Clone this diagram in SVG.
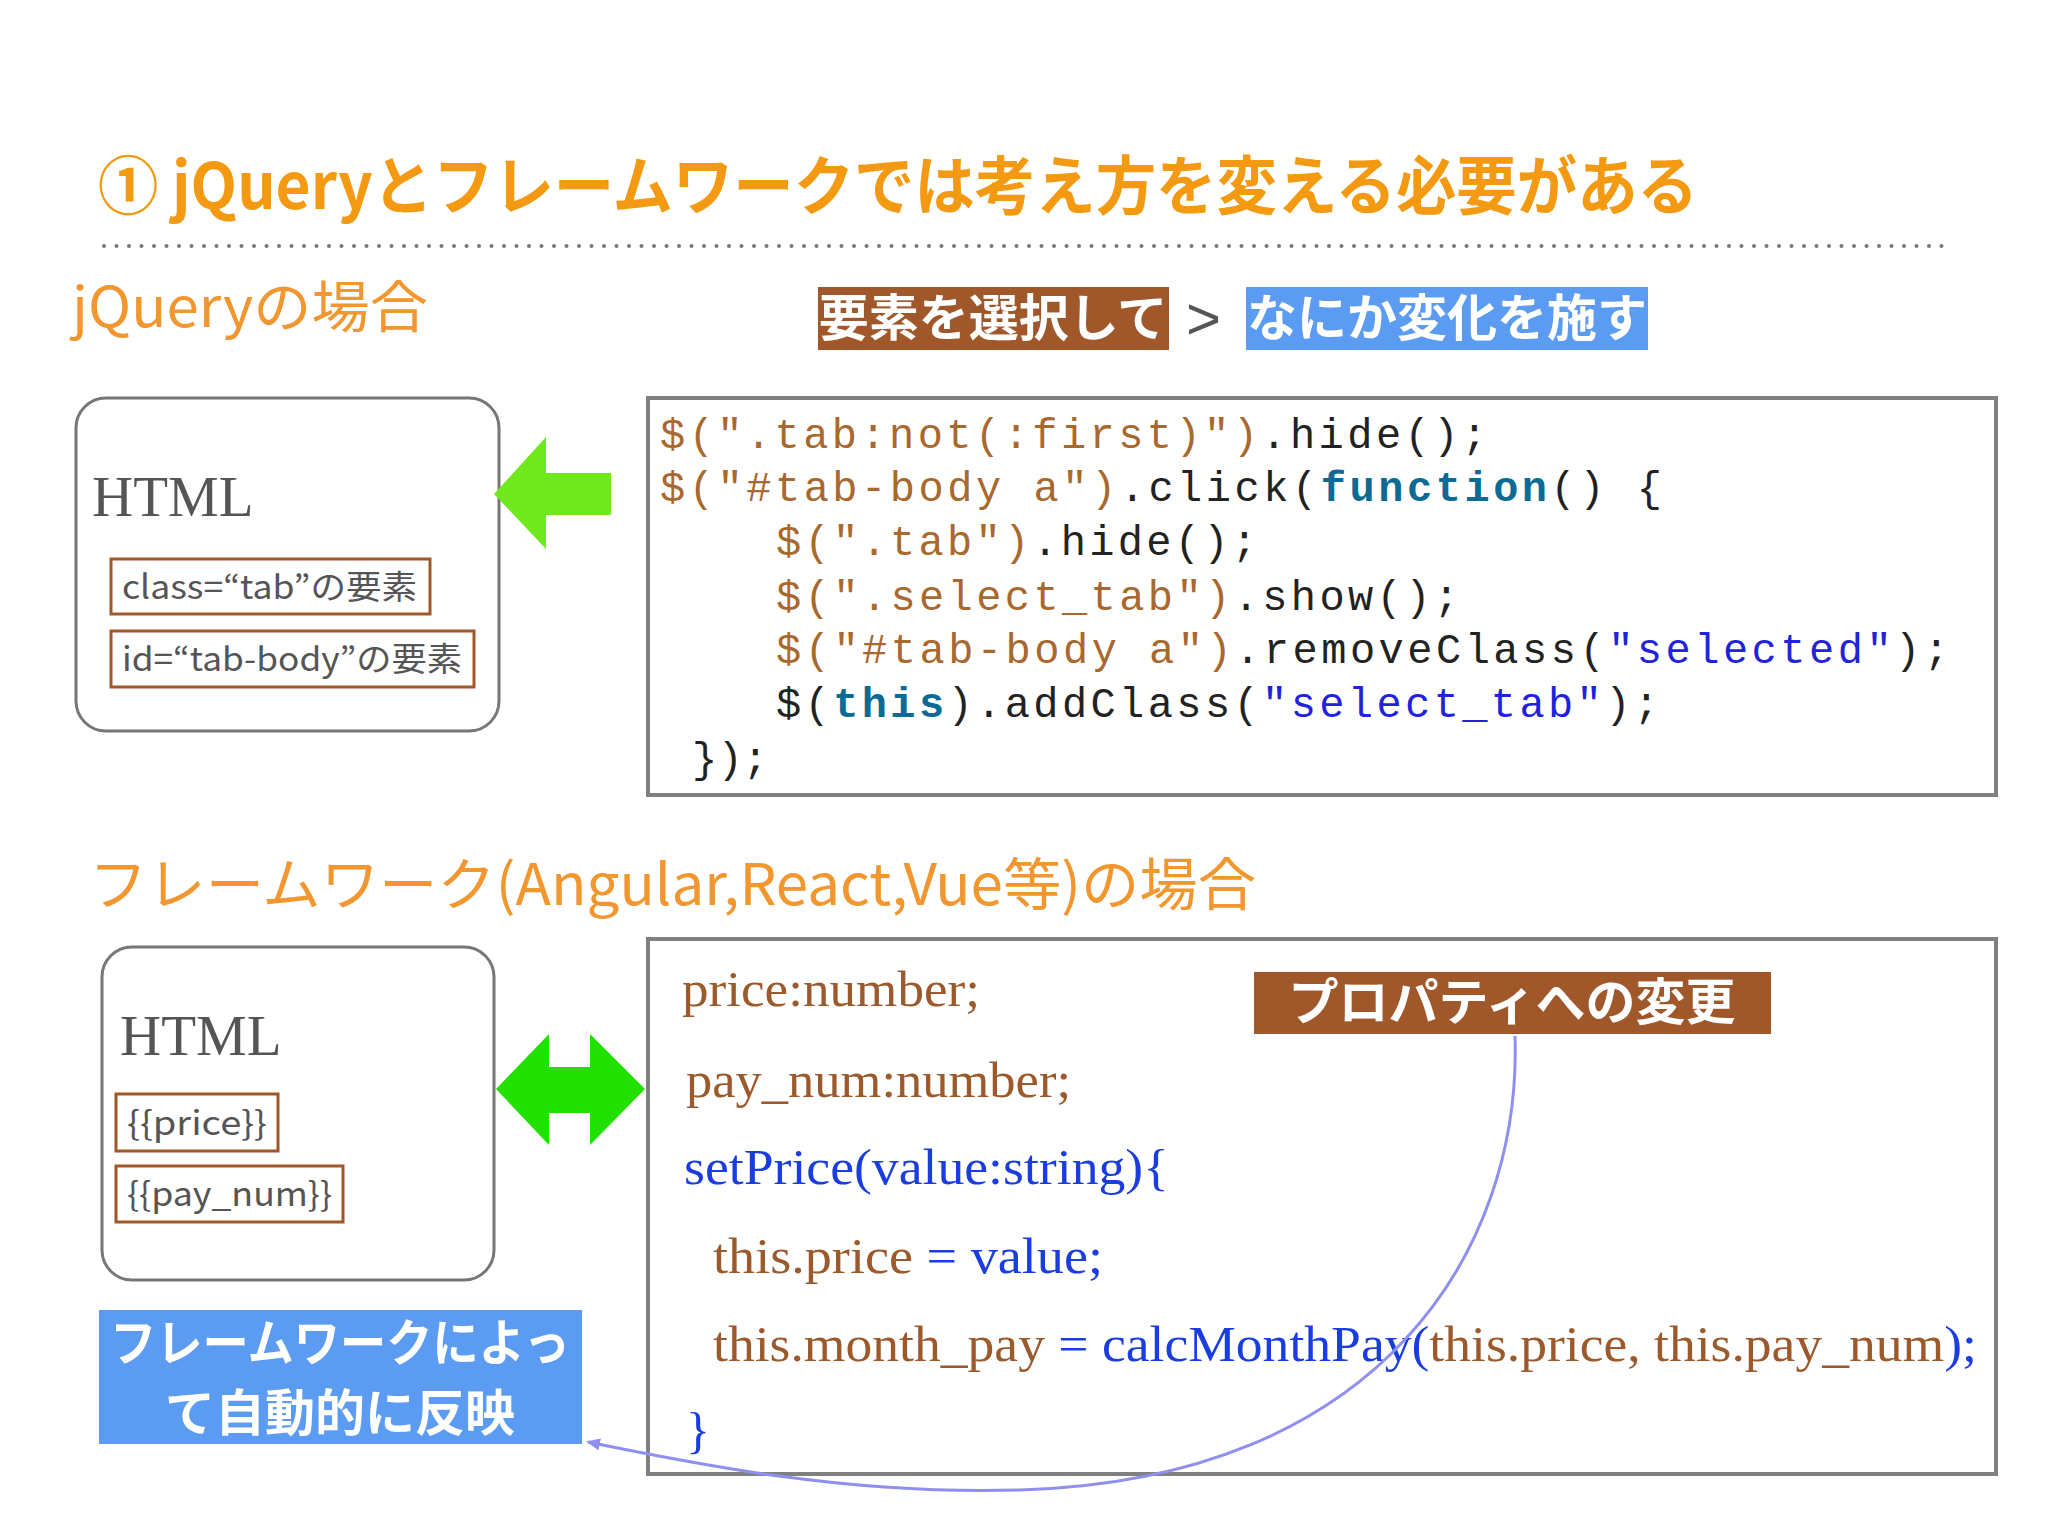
<svg xmlns="http://www.w3.org/2000/svg" width="2048" height="1536" viewBox="0 0 2048 1536">
<style>
.ttl{font-family:"Noto Sans CJK JP",sans-serif;font-weight:bold;fill:#f39a12}
.sec{font-family:"Noto Sans CJK JP",sans-serif;fill:#f2962f}
.lab{font-family:"Noto Sans CJK JP",sans-serif;font-weight:bold;fill:#fff;font-size:50px}
.hbox{fill:#fff;stroke:#777;stroke-width:3}
.html{font-family:"Liberation Serif",serif;font-size:57px;fill:#555}
.sbox{fill:#fff;stroke:#a0582a;stroke-width:3}
.stx{font-family:"Noto Sans CJK JP",sans-serif;font-size:33px;fill:#555}
.cbox{fill:#fff;stroke:#808080;stroke-width:4}
.mono{font-family:"Liberation Mono",monospace;font-size:42px;fill:#222}
.o{fill:#a8682e}.b{fill:#2222dd}.k{fill:#0b6b94;font-weight:bold}
.ser{font-family:"Liberation Serif",serif;font-size:50px}
.br{fill:#9c5a2c}.bl{fill:#1a3ddf}
</style>
<defs>
<marker id="ah" markerWidth="14" markerHeight="12" refX="12" refY="6" orient="auto" markerUnits="userSpaceOnUse"><path d="M0,0 L14,6 L0,12 Z" fill="#8f8ff0"/></marker>
</defs>
<rect width="2048" height="1536" fill="#fff"/>
<text class="ttl" x="98" y="209" font-size="64" textLength="1600" lengthAdjust="spacingAndGlyphs">① jQueryとフレームワークでは考え方を変える必要がある</text>
<line x1="104" y1="246" x2="1946" y2="246" stroke="#777" stroke-width="4" stroke-dasharray="0 12.5" stroke-linecap="round"/>
<text class="sec" x="72" y="327" font-size="56" textLength="356" lengthAdjust="spacingAndGlyphs">jQueryの場合</text>
<g id="lab1"><rect x="818" y="287" width="351" height="63" fill="#a0582a"/><text class="lab" x="993" y="336" text-anchor="middle">要素を選択して</text></g>
<text x="1186" y="339" font-family="Liberation Sans,sans-serif" font-size="60" fill="#555">&gt;</text>
<g id="lab2"><rect x="1246" y="287" width="402" height="63" fill="#5b9cf2"/><text class="lab" x="1447" y="336" text-anchor="middle">なにか変化を施す</text></g>
<g id="html1"><rect class="hbox" x="76" y="398" width="423" height="333" rx="30"/>
<text class="html" x="92" y="516">HTML</text>
<rect class="sbox" x="111" y="559" width="319" height="55"/><text class="stx" x="122" y="599" textLength="295" lengthAdjust="spacingAndGlyphs">class=“tab”の要素</text>
<rect class="sbox" x="111" y="631" width="363" height="56"/><text class="stx" x="122" y="671" textLength="340" lengthAdjust="spacingAndGlyphs">id=“tab-body”の要素</text></g>
<g id="code1"><rect class="cbox" x="648" y="398" width="1348" height="397"/>
<text class="mono" x="660" y="448" textLength="827"><tspan class="o">$(".tab:not(:first)")</tspan>.hide();</text>
<text class="mono" x="660" y="501" textLength="1002"><tspan class="o">$("#tab-body a")</tspan>.click(<tspan class="k">function</tspan>() {</text>
<text class="mono" x="776" y="555" textLength="481"><tspan class="o">$(".tab")</tspan>.hide();</text>
<text class="mono" x="776" y="610" textLength="683"><tspan class="o">$(".select_tab")</tspan>.show();</text>
<text class="mono" x="776" y="663" textLength="1173"><tspan class="o">$("#tab-body a")</tspan>.removeClass(<tspan class="b">"selected"</tspan>);</text>
<text class="mono" x="776" y="717" textLength="883">$(<tspan class="k">this</tspan>).addClass(<tspan class="b">"select_tab"</tspan>);</text>
<text class="mono" x="692" y="772" textLength="76">});</text></g>
<text class="sec" x="89" y="905" font-size="57" textLength="1167" lengthAdjust="spacingAndGlyphs">フレームワーク(Angular,React,Vue等)の場合</text>
<g id="html2"><rect class="hbox" x="102" y="947" width="392" height="333" rx="30"/>
<text class="html" x="120" y="1055">HTML</text>
<rect class="sbox" x="116" y="1094" width="162" height="57"/><text class="stx" x="127" y="1135" textLength="140" lengthAdjust="spacingAndGlyphs">{{price}}</text>
<rect class="sbox" x="116" y="1166" width="227" height="56"/><text class="stx" x="127" y="1206" textLength="205" lengthAdjust="spacingAndGlyphs">{{pay_num}}</text></g>
<g id="note"><rect x="99" y="1310" width="483" height="134" fill="#5b9cf2"/>
<text class="lab" x="340" y="1361" text-anchor="middle" font-size="46" textLength="460" lengthAdjust="spacingAndGlyphs">フレームワークによっ</text>
<text class="lab" x="340" y="1431" text-anchor="middle" font-size="46">て自動的に反映</text></g>
<g id="code2"><rect class="cbox" x="648" y="939" width="1348" height="535"/>
<text class="ser br" x="682" y="1006" textLength="298" lengthAdjust="spacingAndGlyphs">price:number;</text>
<text class="ser br" x="686" y="1097" textLength="385" lengthAdjust="spacingAndGlyphs">pay_num:number;</text>
<text class="ser bl" x="684" y="1184" textLength="485" lengthAdjust="spacingAndGlyphs">setPrice(value:string){</text>
<text class="ser" x="713" y="1273" textLength="390" lengthAdjust="spacingAndGlyphs"><tspan class="br">this.price</tspan><tspan class="bl"> = value;</tspan></text>
<text class="ser" x="713" y="1361" textLength="1264" lengthAdjust="spacingAndGlyphs"><tspan class="br">this.month_pay</tspan><tspan class="bl"> = calcMonthPay(</tspan><tspan class="br">this.price, this.pay_num</tspan><tspan class="bl">);</tspan></text>
<text class="ser bl" x="686" y="1447">}</text></g>
<g id="lab3"><rect x="1254" y="972" width="517" height="62" fill="#a0582a"/><text class="lab" x="1512" y="1020" text-anchor="middle">プロパティへの変更</text></g>
<g id="connectors">
<path d="M494,494 L546,437 L546,473 L611,473 L611,515 L546,515 L546,549 Z" fill="#6fe81c"/>
<path d="M496,1089 L549,1034 L549,1067 L590,1067 L590,1034 L645,1089 L590,1145 L590,1113 L549,1113 L549,1145 Z" fill="#22e000"/>
<path d="M1515,1036 C1522,1250 1380,1480 1020,1490 C850,1495 700,1465 588,1442" fill="none" stroke="#8f8ff0" stroke-width="3" marker-end="url(#ah)"/>
</g>
</svg>
